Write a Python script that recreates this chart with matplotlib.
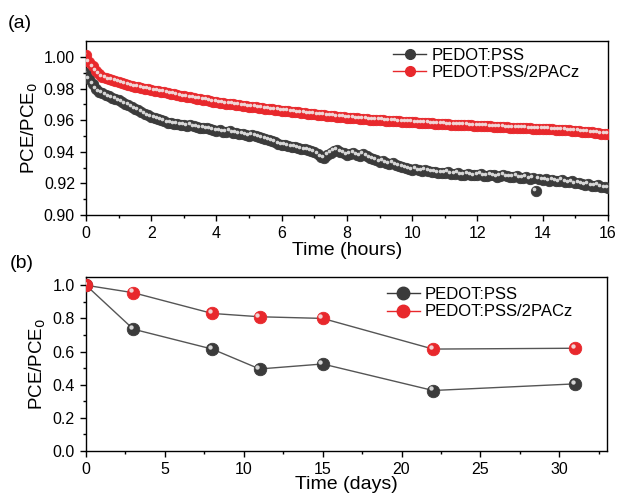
import numpy as np
import matplotlib
matplotlib.use('Agg')
import matplotlib.pyplot as plt
import matplotlib.transforms as mtransforms
from matplotlib.lines import Line2D

plt.rcParams['font.family'] = ['Liberation Sans', 'DejaVu Sans']

# ---- panel (a): continuous tracking, one point every 0.1 h ----
hours = np.round(np.arange(0, 161) * 0.1, 1)

pss_hours = [
    0.990, 0.986, 0.983, 0.980, 0.978, 0.977, 0.976, 0.975, 0.9742, 0.9733,
    0.9725, 0.9715, 0.9705, 0.9695, 0.9683, 0.9672, 0.9662, 0.9652, 0.9640, 0.9630,
    0.9620, 0.9612, 0.9605, 0.9600, 0.9593, 0.9585, 0.9580, 0.9578, 0.9575, 0.9572,
    0.9570, 0.9566, 0.9568, 0.9560, 0.9557, 0.9550, 0.9553, 0.9548, 0.9543, 0.9538,
    0.9532, 0.9535, 0.9528, 0.9526, 0.9530, 0.9521, 0.9518, 0.9515, 0.9512, 0.9508,
    0.9502, 0.9505, 0.9498, 0.9492, 0.9488, 0.9480, 0.9476, 0.9470, 0.9460, 0.9452,
    0.9443, 0.9445, 0.9438, 0.9432, 0.9430, 0.9422, 0.9418, 0.9415, 0.9410, 0.9406,
    0.9400, 0.9385, 0.9370, 0.9362, 0.9380, 0.9395, 0.9405, 0.9412, 0.9400, 0.9390,
    0.9378, 0.9385, 0.9392, 0.9380, 0.9372, 0.9385, 0.9375, 0.9362, 0.9355, 0.9348,
    0.9335, 0.9340, 0.9330, 0.9322, 0.9328, 0.9318, 0.9310, 0.9305, 0.9300, 0.9292,
    0.9285, 0.9290, 0.9282, 0.9278, 0.9285, 0.9276, 0.9270, 0.9274, 0.9268, 0.9266,
    0.9264, 0.9270, 0.9260, 0.9258, 0.9265, 0.9256, 0.9252, 0.9260, 0.9255, 0.9250,
    0.9253, 0.9258, 0.9248, 0.9245, 0.9255, 0.9250, 0.9240, 0.9246, 0.9252, 0.9244,
    0.9243, 0.9238, 0.9245, 0.9236, 0.9232, 0.9240, 0.9230, 0.9235, 0.9152, 0.9228,
    0.9222, 0.9225, 0.9218, 0.9224, 0.9215, 0.9212, 0.9220, 0.9210, 0.9206, 0.9212,
    0.9200, 0.9205, 0.9196, 0.9192, 0.9198, 0.9186, 0.9182, 0.9188, 0.9178, 0.9174,
    0.9169,
]

pacz_hours = [
    1.001, 0.997, 0.994, 0.991, 0.989, 0.9875, 0.9865, 0.9858, 0.9852, 0.9846,
    0.9840, 0.9834, 0.9828, 0.9823, 0.9818, 0.9812, 0.9808, 0.9803, 0.9799, 0.9795,
    0.9790, 0.9787, 0.9783, 0.9780, 0.9776, 0.9772, 0.9768, 0.9765, 0.9760, 0.9755,
    0.9750, 0.9748, 0.9744, 0.9740, 0.9737, 0.9733, 0.9730, 0.9726, 0.9722, 0.9718,
    0.9713, 0.9711, 0.9708, 0.9705, 0.9703, 0.9700, 0.9697, 0.9694, 0.9691, 0.9689,
    0.9686, 0.9684, 0.9681, 0.9679, 0.9676, 0.9673, 0.9670, 0.9668, 0.9665, 0.9662,
    0.9660, 0.9658, 0.9656, 0.9653, 0.9651, 0.9649, 0.9646, 0.9644, 0.9641, 0.9639,
    0.9637, 0.9635, 0.9633, 0.9631, 0.9628, 0.9626, 0.9624, 0.9622, 0.9620, 0.9618,
    0.9616, 0.9614, 0.9613, 0.9611, 0.9609, 0.9608, 0.9606, 0.9604, 0.9603, 0.9601,
    0.9600, 0.9599, 0.9597, 0.9596, 0.9594, 0.9593, 0.9592, 0.9590, 0.9589, 0.9588,
    0.9587, 0.9586, 0.9584, 0.9583, 0.9582, 0.9580, 0.9579, 0.9578, 0.9576, 0.9575,
    0.9574, 0.9573, 0.9572, 0.9571, 0.9570, 0.9570, 0.9569, 0.9568, 0.9567, 0.9566,
    0.9565, 0.9564, 0.9563, 0.9562, 0.9560, 0.9559, 0.9558, 0.9557, 0.9556, 0.9554,
    0.9553, 0.9552, 0.9551, 0.9550, 0.9549, 0.9549, 0.9548, 0.9547, 0.9546, 0.9545,
    0.9544, 0.9543, 0.9542, 0.9541, 0.9540, 0.9538, 0.9537, 0.9536, 0.9535, 0.9533,
    0.9532, 0.9530, 0.9528, 0.9526, 0.9524, 0.9522, 0.9520, 0.9517, 0.9515, 0.9513,
    0.9511,
]

# ---- panel (b): long-term storage ----
days = [0, 3, 8, 11, 15, 22, 31]
pss_days = [1.0, 0.735, 0.615, 0.495, 0.525, 0.365, 0.405]
pacz_days = [1.0, 0.955, 0.83, 0.81, 0.80, 0.615, 0.62]

labels = ['PEDOT:PSS', 'PEDOT:PSS/2PACz']
dark = '#3b3b3b'
red = '#e8282c'


def spheres(ax, x, y, color, ms, line=None):
    # ball-like markers: base disc plus a small light highlight up-left
    if line:
        ax.plot(x, y, '-', color=line, lw=1.0, zorder=2)
    ax.plot(x, y, 'o', ls='none', ms=ms, mfc=color, mec=color, mew=0.6, zorder=3)
    hl = mtransforms.offset_copy(ax.transData, fig=ax.figure, x=-ms * 0.18, y=ms * 0.18, units='points')
    ax.plot(x, y, 'o', ls='none', ms=ms * 0.35, mfc='#f2f2f2', mec='none', alpha=0.85,
            transform=hl, zorder=4)


def style(ax):
    ax.tick_params(which='both', direction='out', top=False, right=False, labelsize=11.5)
    ax.tick_params(which='major', length=4.5, width=1)
    ax.tick_params(which='minor', length=2.5, width=1)
    for s in ax.spines.values():
        s.set_linewidth(1.0)


def legend_handles(ms):
    return [Line2D([], [], color=dark, marker='o', mfc=dark, mec=dark, ms=ms, lw=1),
            Line2D([], [], color=red, marker='o', mfc=red, mec=red, ms=ms, lw=1)]


fig = plt.figure(figsize=(6.19, 4.98), dpi=100)
axa = fig.add_axes([0.139, 0.5683, 0.843, 0.3494])
axb = fig.add_axes([0.139, 0.0944, 0.841, 0.3494])

spheres(axa, hours, pss_hours, dark, 7.5)
spheres(axa, hours, pacz_hours, red, 7.5)
axa.set_xlim(0, 16)
axa.set_ylim(0.90, 1.0101)
axa.set_xticks(np.arange(0, 17, 2))
axa.set_xticks(np.arange(1, 16, 2), minor=True)
axa.set_yticks([0.90, 0.92, 0.94, 0.96, 0.98, 1.00])
axa.set_yticks(np.arange(0.91, 1.0, 0.02), minor=True)
axa.set_yticklabels(['0.90', '0.92', '0.94', '0.96', '0.98', '1.00'])
axa.set_xlabel('Time (hours)', fontsize=14, labelpad=1)
axa.set_ylabel('PCE/PCE$_0$', fontsize=13.5, labelpad=3)
style(axa)
axa.legend(legend_handles(7), labels, loc='upper right', bbox_to_anchor=(0.965, 1.02), frameon=False,
           fontsize=12, handlelength=2.0, handletextpad=0.3, labelspacing=0.15, borderaxespad=0.2)

spheres(axb, days, pss_days, dark, 9.0, line='#555555')
spheres(axb, days, pacz_days, red, 9.0, line='#555555')
axb.set_xlim(0, 33)
axb.set_ylim(0, 1.05)
axb.set_xticks(np.arange(0, 31, 5))
axb.set_xticks(np.arange(2.5, 33, 5), minor=True)
axb.set_yticks(np.arange(0, 1.01, 0.2))
axb.set_yticks(np.arange(0.1, 1.0, 0.2), minor=True)
axb.set_yticklabels(['0.0', '0.2', '0.4', '0.6', '0.8', '1.0'])
axb.set_xlabel('Time (days)', fontsize=14, labelpad=-1)
axb.set_ylabel('PCE/PCE$_0$', fontsize=13.5, labelpad=3)
style(axb)
axb.legend(legend_handles(9), labels, loc='upper right', bbox_to_anchor=(0.955, 1.0), frameon=False,
           fontsize=12, handlelength=2.0, handletextpad=0.3, labelspacing=0.15, borderaxespad=0.2)

fig.text(0.013, 0.952, '(a)', fontsize=14, va='center')
fig.text(0.016, 0.470, '(b)', fontsize=14, va='center')

fig.savefig('out.png', dpi=100)
